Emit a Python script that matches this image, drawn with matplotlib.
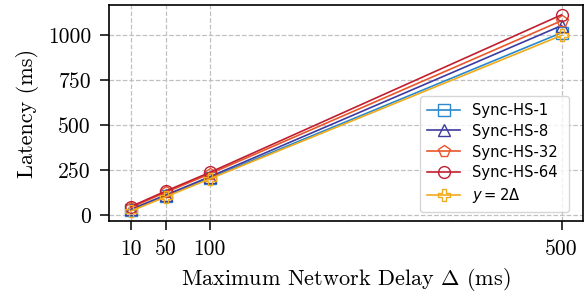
import matplotlib
matplotlib.use("Agg")
import matplotlib.pyplot as plt
from matplotlib.font_manager import FontProperties

delays = [10, 50, 100, 500]
hs1 = [25, 105, 205, 1015]
hs8 = [30, 110, 212, 1055]
hs32 = [40, 125, 228, 1082]
hs64 = [45, 132, 236, 1115]
y2d = [20, 100, 200, 1000]

series = [
    ("Sync-HS-1", hs1, "#2a88cc", "s"),
    ("Sync-HS-8", hs8, "#3d3aa0", "^"),
    ("Sync-HS-32", hs32, "#e8562a", "p"),
    ("Sync-HS-64", hs64, "#c01f30", "o"),
    (r"$y = 2\Delta$", y2d, "#f0ac1c", "P"),
]

plt.rcParams["mathtext.fontset"] = "cm"
fig, ax = plt.subplots(figsize=(5.86, 2.95), dpi=100)
for label, vals, col, mk in series:
    ax.plot(delays, vals, color=col, marker=mk, markersize=8.5, markerfacecolor="none",
            markeredgewidth=1.0, linewidth=1.2, label=label)

ax.set_xticks(delays)
ax.set_yticks([0, 250, 500, 750, 1000])
ax.grid(True, linestyle="--", color="#c0c0c0", linewidth=0.9)
for lab in ax.get_xticklabels() + ax.get_yticklabels():
    lab.set_fontfamily("cmr10")
    lab.set_fontsize(15.5)
ax.tick_params(direction="out", length=6.5, width=1.1, pad=6.5)
ax.set_xlabel(r"Maximum Network Delay $\Delta$ (ms)", fontfamily="cmr10", fontsize=16, labelpad=5)
ax.set_ylabel("Latency (ms)", fontfamily="cmr10", fontsize=16, labelpad=6)
for s in ax.spines.values():
    s.set_linewidth(1.2)
prop = FontProperties(family="DejaVu Sans", size=10.6, math_fontfamily="dejavusans")
leg = ax.legend(prop=prop, loc="lower left", bbox_to_anchor=(0.656, 0.042, 0.3145, 0.5),
                mode="expand", borderaxespad=0, handlelength=2.3, markerscale=1.0,
                labelspacing=0.4, borderpad=0.45)
fig.subplots_adjust(left=0.186, right=0.995, top=0.983, bottom=0.2508)
fig.savefig("out.png", dpi=100)
